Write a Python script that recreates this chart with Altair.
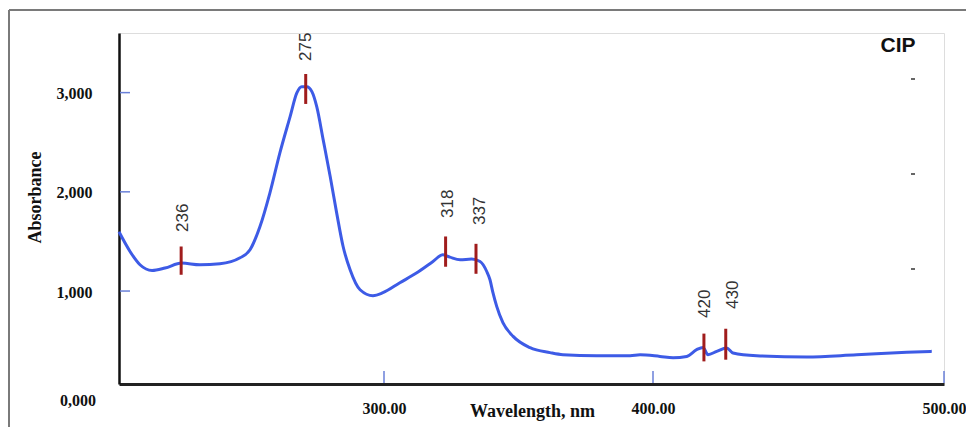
import altair as alt
import pandas as pd

# ---- data ----
wavelength = [201.5, 205.6, 209.3, 213.8, 218.6, 224.8, 231.6, 239.0, 246.5, 250.2,
              253.9, 257.6, 261.3, 265.1, 267.6, 269.4, 271.3, 273.2, 275.0, 277.4,
              280.0, 282.4, 284.8, 287.4, 291.1, 295.9, 299.6, 305.9, 312.2, 318.2,
              321.8, 324.5, 328.3, 332.6, 335.7, 338.2, 339.4, 340.5, 341.9, 344.2,
              348.0, 354.3, 361.7, 366.5, 379.1, 391.5, 395.2, 402.4, 406.9, 411.6,
              415.0, 417.2, 418.9, 421.9, 425.3, 427.5, 435.6, 452.8, 470.0, 487.2,
              495.8]
absorbance = [1597, 1399, 1265, 1207, 1232, 1282, 1265, 1275, 1335, 1416,
              1650, 1990, 2393, 2758, 2997, 3060, 3060, 3010, 2859, 2524,
              2154, 1788, 1449, 1214, 1013, 953, 983, 1084, 1184, 1298,
              1366, 1342, 1315, 1322, 1298, 1197, 1114, 983, 845, 681,
              543, 429, 379, 358, 348, 348, 357, 341, 328, 341,
              409, 432, 358, 392, 426, 376, 348, 335, 358, 382,
              392]

peak_labels = ["236", "275", "318", "337", "420", "430"]
peak_x = [224.6, 270.9, 322.9, 334.2, 417.5, 425.0]
peak_top = [1449, 3188, 1550, 1476, 571, 620]
peak_bottom = [1164, 2886, 1245, 1174, 291, 308]
label_x = [225.2, 271.0, 323.8, 335.7, 417.9, 427.5]
label_y = [1738, 3463, 1879, 1808, 872, 963]

x_ticks = [300, 400, 500]
y_ticks = [1000, 2000, 3000]
zero_label = ["0,000"]
zero_value = [0]

curve = pd.DataFrame({"wl": wavelength, "abs": absorbance})
peaks = pd.DataFrame({"wl": peak_x, "top": peak_top, "bottom": peak_bottom})
labels = pd.DataFrame({"wl": label_x, "abs": label_y, "txt": peak_labels})
xt = pd.DataFrame({"wl": x_ticks})
yt = pd.DataFrame({"abs": y_ticks})
zl = pd.DataFrame({"abs": zero_value, "txt": zero_label})

W, H = 825, 351
x_scale = alt.Scale(domain=[201.5, 300, 400, 500], range=[0, 265, 534, 825], nice=False, zero=False)
y_scale = alt.Scale(domain=[63, 3601], nice=False, zero=False)

serif = "Liberation Serif"

x_axis = alt.Axis(values=x_ticks, format=".2f", labelFont=serif, labelFontWeight="bold",
                  labelFontSize=16, labelColor="#111", ticks=False, tickSize=0,
                  labelPadding=16, labelFlush=False, labelOverlap=False,
                  domainColor="#222", domainWidth=3, grid=False,
                  title="Wavelength, nm", titleFont=serif, titleFontSize=18,
                  titleFontWeight="bold", titleColor="#111", titleX=413, titleY=27,
                  titleBaseline="middle", titleAlign="center")
y_axis = alt.Axis(values=y_ticks, format=",.0f", labelFont=serif, labelFontWeight="bold",
                  labelFontSize=16, labelColor="#111", ticks=False, tickSize=0,
                  labelPadding=27, labelOffset=1, labelFlush=False, labelOverlap=False,
                  domainColor="#111", domainWidth=2.5, grid=False,
                  title="Absorbance", titleFont=serif, titleFontSize=18,
                  titleFontWeight="bold", titleColor="#111", titleX=-84, titleY=164,
                  titleAngle=270, titleAlign="center", titleBaseline="middle")

line = alt.Chart(curve).mark_line(color="#3d5be6", strokeWidth=3, interpolate="monotone").encode(
    x=alt.X("wl:Q", scale=x_scale, axis=x_axis),
    y=alt.Y("abs:Q", scale=y_scale, axis=y_axis),
)

markers = alt.Chart(peaks).mark_rule(color="#a01c1c", strokeWidth=3).encode(
    x=alt.X("wl:Q", scale=x_scale),
    y=alt.Y("top:Q", scale=y_scale),
    y2="bottom:Q",
)

texts = alt.Chart(labels).mark_text(angle=270, align="center", baseline="middle",
                                    font="Liberation Sans", fontSize=17, color="#333").encode(
    x=alt.X("wl:Q", scale=x_scale),
    y=alt.Y("abs:Q", scale=y_scale),
    text="txt:N",
)

xticks = alt.Chart(xt).mark_rule(color="#6a80d8", strokeWidth=1.5).encode(
    x=alt.X("wl:Q", scale=x_scale),
    y=alt.value(H - 1),
    y2=alt.value(H - 13),
)

yticks = alt.Chart(yt).mark_rule(color="#6a80d8", strokeWidth=1.5).encode(
    y=alt.Y("abs:Q", scale=y_scale),
    x=alt.value(1),
    x2=alt.value(11),
)

zero_txt = alt.Chart(zl).mark_text(align="right", baseline="middle", dy=11, font=serif,
                                   fontWeight="bold", fontSize=16, color="#111",
                                   clip=False).encode(
    y=alt.Y("abs:Q", scale=y_scale),
    x=alt.value(-23),
    text="txt:N",
)

cip = alt.Chart(pd.DataFrame({"t": ["CIP"]})).mark_text(
    align="center", baseline="middle", font="Liberation Sans", fontWeight="bold",
    fontSize=21, color="#111").encode(x=alt.value(779), y=alt.value(13), text="t:N")

decor = []
for yy in [46, 141, 236]:
    decor.append(alt.Chart(pd.DataFrame({"a": [0]})).mark_rule(color="#333", strokeWidth=1.5).encode(
        x=alt.value(792), x2=alt.value(796), y=alt.value(yy)))

frame_top = alt.Chart(pd.DataFrame({"a": [0]})).mark_rule(color="#7a7a7a", strokeWidth=2).encode(
    x=alt.value(-110), x2=alt.value(860), y=alt.value(-23))
frame_left = alt.Chart(pd.DataFrame({"a": [0]})).mark_rule(color="#7a7a7a", strokeWidth=2).encode(
    x=alt.value(-110), y=alt.value(-23), y2=alt.value(400))

chart = alt.layer(frame_top, frame_left, xticks, yticks, line, markers, texts, zero_txt, cip, *decor).properties(
    width=W, height=H,
    autosize=alt.AutoSizeParams(type="none"),
    padding={"left": 111, "top": 25, "right": 22, "bottom": 43},
).configure_view(stroke=None).configure(background="white")

chart.save("out.html", embed_options={"renderer": "svg", "actions": False})
